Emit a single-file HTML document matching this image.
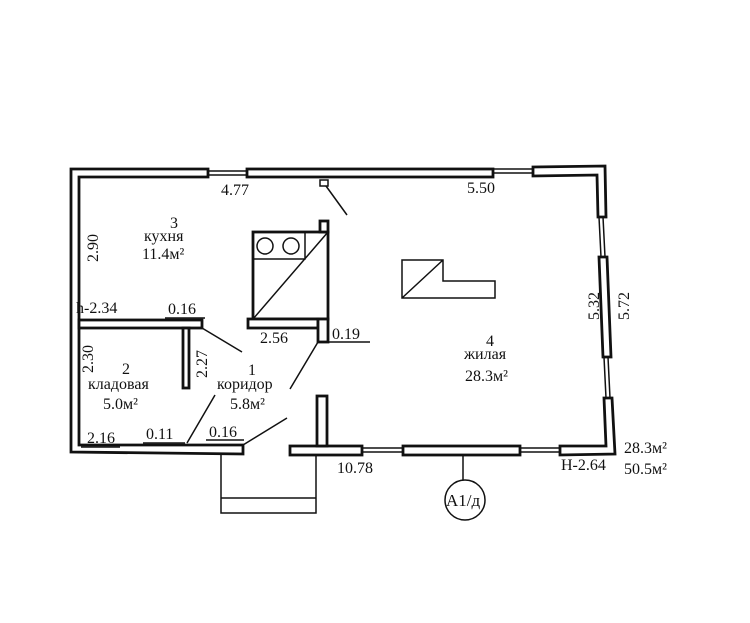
<!DOCTYPE html>
<html><head><meta charset="utf-8"><style>
body{margin:0;background:#fff}
svg text{font-family:"Liberation Serif",serif;font-size:16px;fill:#111}
</style></head><body>
<svg width="750" height="618" viewBox="0 0 750 618" xmlns="http://www.w3.org/2000/svg">
<g fill="#fff" stroke="#111" stroke-width="2.8" stroke-linejoin="miter">
<path d="M71,452 L71,169 L208,169 L208,177 L79,177 L79,445 L243,445 L243,454 Z"/>
<rect x="247" y="169" width="246" height="8"/>
<path d="M533,167 L605,166 L606,217 L598,217 L597,175 L533,176 Z"/>
<path d="M599,257 L607,257 L611,357 L603,357 Z"/>
<path d="M604,398 L612,398 L615,454 L560,455 L560,446 L606,446 Z"/>
<rect x="290" y="446" width="72" height="9"/>
<rect x="403" y="446" width="117" height="9"/>
<rect x="79" y="320" width="123" height="8"/>
<rect x="183" y="328" width="6" height="60"/>
<rect x="253" y="232" width="75" height="87"/>
<rect x="320" y="221" width="8" height="11"/>
<rect x="248" y="319" width="70" height="9"/>
<rect x="318" y="319" width="10" height="23"/>
<rect x="317" y="396" width="10" height="50"/>
</g>
<g fill="none" stroke="#111" stroke-width="1.5">
<path d="M208,171 H247 M208,175 H247 M493,169 H533 M493,173 H533"/>
<path d="M599,217 L601,257 M603,217 L605,257 M604,357 L606,398 M608,357 L610,398"/>
<path d="M362,448 H403 M362,452 H403 M520,448 H560 M520,452 H560"/>
<path d="M305,232 V259 H253 M253,319 L328,232"/>
<circle cx="265" cy="246" r="8"/><circle cx="291" cy="246" r="8"/>
<path d="M202,328 L242,352 M318,342 L290,389 M215,395 L187,443 M243,445 L287,418 M326,186 L347,215"/>
<rect x="320" y="180" width="8" height="6"/>
<path d="M402,260 H443 V281 H495 V298 H402 Z M402,298 L443,260"/>
<path d="M221,455 V513 H316 V455 M221,498 H316"/>
<path d="M165,318 H205 M328,342 H370 M143,443 H185 M206,440 H244 M81,447 H120"/>
<path d="M463,455 V480"/>
<circle cx="465" cy="500" r="20"/>
</g>
<text x="221" y="195">4.77</text>
<text x="467" y="193">5.50</text>
<text x="170" y="228">3</text>
<text x="144" y="241">кухня</text>
<text x="142" y="259">11.4м²</text>
<text transform="translate(98,262) rotate(-90)">2.90</text>
<text x="76" y="313">h-2.34</text>
<text x="168" y="314">0.16</text>
<text transform="translate(93,373) rotate(-90)">2.30</text>
<text transform="translate(207,378) rotate(-90)">2.27</text>
<text x="260" y="343">2.56</text>
<text x="332" y="339">0.19</text>
<text x="122" y="374">2</text>
<text x="88" y="389">кладовая</text>
<text x="103" y="409">5.0м²</text>
<text x="248" y="375">1</text>
<text x="217" y="389">коридор</text>
<text x="230" y="409">5.8м²</text>
<text x="87" y="443">2.16</text>
<text x="146" y="439">0.11</text>
<text x="209" y="437">0.16</text>
<text x="486" y="346">4</text>
<text x="464" y="359">жилая</text>
<text x="465" y="381">28.3м²</text>
<text transform="translate(599,320) rotate(-90)">5.32</text>
<text transform="translate(629,320) rotate(-90)">5.72</text>
<text x="337" y="473">10.78</text>
<text x="561" y="470">Н-2.64</text>
<text x="624" y="453">28.3м²</text>
<text x="624" y="474">50.5м²</text>
<text x="446" y="506" style="font-size:17px">А1/д</text>
</svg>
</body></html>
